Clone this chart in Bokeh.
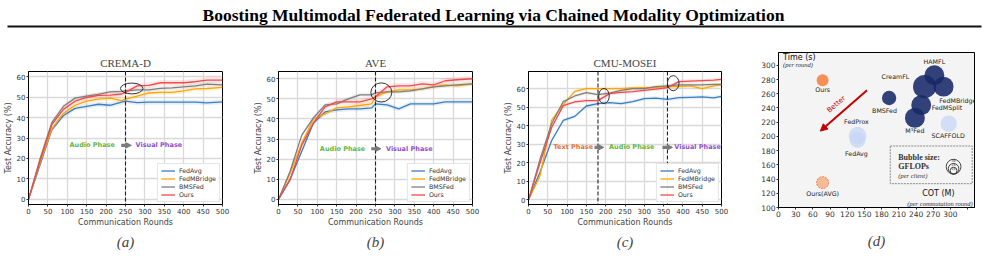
import numpy as np
from bokeh.plotting import figure
from bokeh.layouts import column, row
from bokeh.models import (Range1d, Span, Arrow, NormalHead, Legend, LegendItem,
                          Title, FixedTicker)
from bokeh.core.properties import value
from bokeh.embed import file_html
from bokeh.resources import INLINE

# ---------------- data ----------------
MAIN_TITLE = "Boosting Multimodal Federated Learning via Chained Modality Optimization"
methods = ["FedAvg", "FedMBridge", "BMSFed", "Ours"]

# (a) CREMA-D
rounds_a = [0, 30, 60, 90, 120, 150, 180, 210, 240, 250, 280, 310, 340, 370, 400, 430, 460, 500]
crema_fedavg = [0, 17, 34, 41, 44.5, 45.5, 46.5, 46, 47.5, 48, 47.3, 47.5, 47.5, 47.5, 47.5, 47.5, 47.2, 47.7]
crema_fedmbridge = [0, 18, 34.5, 42, 46, 48, 49, 49.5, 48.3, 49, 50.5, 52, 52.3, 52.3, 53, 54, 54.2, 54.7]
crema_bmsfed = [0, 20, 37.5, 45.5, 49.5, 50.5, 51.3, 52.5, 52.8, 53, 53.5, 53.5, 54.3, 54.5, 55, 55.5, 56.3, 56]
crema_ours = [0, 19, 36.5, 44, 48, 49.8, 50.8, 51, 51.5, 52.3, 55.5, 55.7, 57, 57, 57, 57.5, 58.3, 58.3]
crema_std = [1.2, 1.2, 1.0, 1.4]

# (b) AVE
rounds_b = [0, 30, 60, 90, 120, 150, 180, 210, 240, 250, 280, 310, 340, 370, 400, 430, 460, 500]
ave_fedavg = [0, 10, 24, 38, 43.5, 44.5, 45, 45, 45.5, 47.5, 47, 45, 47.5, 47.5, 47.5, 48.5, 48.5, 48.5]
ave_fedmbridge = [0, 13, 28, 40, 42.5, 45.5, 46, 46.7, 47.5, 51, 53.5, 54.5, 54.5, 55, 56, 57, 56.5, 57.5]
ave_bmsfed = [0, 14, 32, 40.5, 47, 47.5, 50, 52, 52, 53, 53.5, 53.5, 54, 55, 56, 56.5, 57, 57.5]
ave_ours = [0, 10, 27, 38, 46, 48.5, 48.5, 48.5, 50, 51, 56, 56.5, 56.5, 57.5, 57, 59, 59.5, 60]
ave_std = [1.2, 1.2, 1.0, 1.4]

# (c) CMU-MOSEI
rounds_c = [0, 30, 60, 90, 120, 150, 180, 210, 240, 270, 300, 330, 360, 390, 420, 450, 480, 500]
mosei_fedavg = [0, 15, 32, 42.8, 45, 50.6, 51.9, 52.4, 51.9, 53, 54.6, 54.8, 54.2, 55.1, 55.3, 55.5, 55, 55.8]
mosei_fedmbridge = [0, 13, 43, 51.5, 58.5, 60, 60, 60, 60, 60.3, 60.5, 60.5, 61, 61, 61.5, 60, 61.5, 62]
mosei_bmsfed = [0, 22, 41, 53, 56, 57.8, 56.7, 57.5, 59, 60, 60, 61, 61.5, 62, 62, 62, 62.3, 62.3]
mosei_ours = [0, 20, 39, 50.8, 52.8, 53.5, 53.5, 57.3, 58, 58.3, 59, 59.7, 60.5, 63.7, 64, 64.3, 64.5, 65]
mosei_std = [1.0, 1.0, 0.9, 1.0]

# (d) efficiency bubbles
bub_names = ["Ours", "Ours(AVG)", "FedProx", "FedAvg", "BMSFed", "CreamFL", "HAMFL",
             "FedMBridge", "FedMSplit", "M³Fed", "SCAFFOLD"]
bub_cot = [77, 77, 138, 138, 193, 255, 272, 288, 249, 238, 297]
bub_time = [279, 135, 201, 195, 254, 270, 286, 270, 244, 226, 218]
bub_gflops = [0.9, 0.9, 2.0, 1.6, 1.3, 3.4, 2.5, 2.5, 2.5, 2.5, 1.7]
bub_group = ["ours", "ours_avg", "light", "light", "dark", "dark", "dark", "dark", "dark", "dark", "light"]

# ---------------- style ----------------
COLORS = ["#3a7fc1", "#ffa500", "#7f7f7f", "#f24a4a"]
SANS = "DejaVu Sans"
SERIF = "Liberation Serif"
GREEN = "#62b843"
PURPLE = "#9150cc"
ORANGE_T = "#e0733a"
TICK_COL = "#333333"


def style_axes(p):
    p.axis.major_label_text_font = SANS
    p.axis.major_label_text_font_size = "7px"
    p.axis.major_label_text_color = TICK_COL
    p.axis.major_tick_out = 2
    p.axis.major_tick_in = 0
    p.axis.minor_tick_line_color = None
    p.axis.major_tick_line_color = "#333333"
    p.axis.axis_line_color = "black"
    p.axis.major_label_standoff = 1
    p.axis.axis_label_text_font = SANS
    p.axis.axis_label_text_font_size = "8px"
    p.axis.axis_label_text_font_style = "normal"
    p.axis.axis_label_standoff = 1
    p.outline_line_color = "black"
    p.outline_line_width = 1


def acc_panel(title, caption, rounds, series, stds, y_end, splits, ellipses,
              phase_y, phases, arrows, left, right):
    p = figure(width=250, height=221, x_range=Range1d(0, 500), y_range=Range1d(-2.5, y_end),
               output_backend="svg", toolbar_location=None,
               min_border_left=left, min_border_right=right,
               min_border_top=31, min_border_bottom=57)
    p.title.text = title
    p.title.align = "center"
    p.title.text_font = SERIF
    p.title.text_font_size = "11px"
    p.title.text_font_style = "normal"
    p.title.standoff = 5
    style_axes(p)
    p.xaxis.ticker = FixedTicker(ticks=list(range(0, 501, 50)))
    p.yaxis.ticker = FixedTicker(ticks=list(range(0, 61, 10)))
    p.xaxis.axis_label = "Communication Rounds"
    p.yaxis.axis_label = "Test Accuracy (%)"
    p.grid.grid_line_color = "#d9d9d9"
    p.grid.grid_line_width = 1.3

    x = np.array(rounds, dtype=float)
    items = []
    for name, vals, sd, col in zip(methods, series, stds, COLORS):
        v = np.array(vals, dtype=float)
        band = np.where(x > 0, sd, 0.0)
        p.varea(x=x, y1=v - band, y2=v + band, fill_color=col, fill_alpha=0.13)
    for name, vals, col in zip(methods, series, COLORS):
        r = p.line(x=rounds, y=vals, line_color=col, line_width=1.3)
        items.append(LegendItem(label=name, renderers=[r]))

    for s in splits:
        p.add_layout(Span(location=s, dimension="height", line_color="#222222",
                          line_width=1.1, line_dash="4 2"))
    for (ex, ey, ew, eh) in ellipses:
        p.ellipse(x=[ex], y=[ey], width=[ew], height=[eh], fill_color=None,
                  line_color="#333333", line_width=1)

    for (txt, col, xc) in phases:
        p.text(x=[xc], y=[phase_y], text=[txt], text_color=col, text_align="center",
               text_baseline="middle", text_font=value(SANS), text_font_size="6.5px",
               text_font_style="bold")
    for (x0, x1) in arrows:
        p.add_layout(Arrow(x_start=x0, y_start=phase_y, x_end=x1, y_end=phase_y,
                           line_color="#7a7a7a", line_width=3.2,
                           end=NormalHead(size=5, fill_color="#7a7a7a", line_color="#7a7a7a")))

    leg = Legend(items=items, location="bottom_right")
    leg.label_text_font = SANS
    leg.label_text_font_size = "6.3px"
    leg.label_text_color = "#333333"
    leg.glyph_width = 14
    leg.glyph_height = 7
    leg.label_height = 7
    leg.label_standoff = 4
    leg.spacing = 1
    leg.padding = 3
    leg.margin = 2
    leg.border_line_color = "#cccccc"
    leg.border_line_width = 1
    leg.background_fill_alpha = 0.9
    p.add_layout(leg)

    cap = Title(text=caption, align="center", text_font=SERIF, text_font_size="15px",
                text_font_style="italic", standoff=4)
    p.add_layout(cap, "below")
    return p


pa = acc_panel("CREMA-D", "(a)", rounds_a,
               [crema_fedavg, crema_fedmbridge, crema_bmsfed, crema_ours], crema_std,
               62.5, [250], [(266, 54.2, 58, 5.3)], 26.4,
               [("Audio Phase", GREEN, 164), ("Visual Phase", PURPLE, 336)], [(239, 265)],
               28, 28)
pb = acc_panel("AVE", "(b)", rounds_b,
               [ave_fedavg, ave_fedmbridge, ave_bmsfed, ave_ours], ave_std,
               63.6, [250], [(265, 53.2, 54, 9.5)], 25.2,
               [("Audio Phase", GREEN, 165), ("Visual Phase", PURPLE, 337)], [(239, 264)],
               28, 28)
pc = acc_panel("CMU-MOSEI", "(c)", rounds_c,
               [mosei_fedavg, mosei_fedmbridge, mosei_bmsfed, mosei_ours], mosei_std,
               69.2, [180, 360], [(195.5, 56, 27.5, 8.1), (375, 62.9, 30, 8.1)], 28.3,
               [("Text Phase", ORANGE_T, 116), ("Audio Phase", GREEN, 267.5),
                ("Visual Phase", PURPLE, 438)], [(171, 195), (347, 373)],
               27, 29)

# ---------------- (d) bubble chart ----------------
pd_ = figure(width=235, height=221, x_range=Range1d(0, 342), y_range=Range1d(100, 318),
             output_backend="svg", toolbar_location=None,
             min_border_left=28, min_border_right=11, min_border_top=12, min_border_bottom=54)
style_axes(pd_)
pd_.background_fill_color = "#f4f4f4"
pd_.grid.grid_line_color = None
pd_.xaxis.ticker = FixedTicker(ticks=list(range(0, 331, 30)))
pd_.xaxis.major_label_overrides = {330: ""}
pd_.yaxis.ticker = FixedTicker(ticks=list(range(100, 301, 20)))
pd_.axis.major_label_text_font_size = "7.5px"

STY = {
    "ours": dict(fill="#f58a4b", alpha=0.95, line=None, dash="solid"),
    "ours_avg": dict(fill="#f8ab80", alpha=0.8, line="#ef7a3c", dash="2 1"),
    "light": dict(fill="#c7d5f7", alpha=0.75, line=None, dash="solid"),
    "dark": dict(fill="#172868", alpha=0.88, line=None, dash="solid"),
}
for grp in ["ours", "ours_avg", "light", "dark"]:
    idx = [i for i, g in enumerate(bub_group) if g == grp]
    st = STY[grp]
    pd_.scatter(x=[bub_cot[i] for i in idx], y=[bub_time[i] for i in idx],
                size=[2 * 6.3 * np.sqrt(bub_gflops[i]) for i in idx],
                fill_color=st["fill"], fill_alpha=st["alpha"],
                line_color=st["line"], line_dash=st["dash"], line_width=1)

lab_pos = {"Ours": (77, 266.5), "Ours(AVG)": (77, 119), "FedProx": (136, 220.5),
           "FedAvg": (136, 176.5), "BMSFed": (185, 237), "CreamFL": (204, 284),
           "HAMFL": (272, 305), "FedMBridge": (313, 251), "FedMSplit": (294, 240),
           "M³Fed": (238, 208), "SCAFFOLD": (296, 201)}
pd_.text(x=[lab_pos[n][0] for n in bub_names], y=[lab_pos[n][1] for n in bub_names],
         text=bub_names, text_align="center", text_baseline="middle",
         text_font=value(SANS), text_font_size="6.3px", text_color="#222222")

# "Better" arrow
pd_.add_layout(Arrow(x_start=154.5, y_start=265, x_end=73, y_end=207.5,
                     line_color="#c40000", line_width=2,
                     end=NormalHead(size=7, fill_color="#c40000", line_color="#c40000")))
pd_.text(x=[101], y=[245], text=["Better"], angle=41, angle_units="deg",
         text_align="center", text_baseline="middle", text_font=value(SANS),
         text_font_size="7px", text_color="#c40000")

# axis captions inside
pd_.text(x=[8], y=[311.5], text=["Time (s)"], text_align="left", text_baseline="middle",
         text_font=value(SANS), text_font_size="8px", text_color="#111111")
pd_.text(x=[8], y=[301.5], text=["(per round)"], text_align="left", text_baseline="middle",
         text_font=value(SERIF), text_font_size="6.5px", text_font_style="italic",
         text_color="#333333")
pd_.text(x=[279], y=[119], text=["COT (M)"], text_align="center", text_baseline="middle",
         text_font=value(SANS), text_font_size="8px", text_color="#111111")
pd_.text(x=[339], y=[105.5], text=["(per commutation round)"], text_align="right",
         text_baseline="middle", text_font=value(SERIF), text_font_size="6.5px",
         text_font_style="italic", text_color="#333333")

# bubble-size legend box
pd_.quad(left=[195], right=[338], bottom=[133.5], top=[186.5], fill_color=None,
         line_color="#8a8a8a", line_dash="2 1", line_width=1)
pd_.text(x=[209, 209, 209], y=[171, 158, 144.5],
         text=["Bubble size:", "GFLOPs", "(per client)"], text_align="left",
         text_baseline="middle", text_font=value(SERIF),
         text_font_size=["8px", "8px", "6.5px"], text_font_style=["bold", "bold", "italic"],
         text_color="#333333")
ref_lab = ["3k", "2k", "1k"]
ref_r_px = [7.4, 5.3, 3.4]
base_y = 147.0
pd_.scatter(x=[305.5] * 3, y=[base_y + r / 0.712 for r in ref_r_px],
            size=[2 * r for r in ref_r_px], fill_color=None, line_color="#333333",
            line_width=0.9)
pd_.text(x=[305.5] * 3, y=[base_y + (2 * r - 1.6) / 0.712 for r in ref_r_px], text=ref_lab,
         text_align="center", text_baseline="middle", text_font=value(SANS),
         text_font_size="3.5px", text_color="#333333")

pd_.add_layout(Title(text="(d)", align="center", text_font=SERIF, text_font_size="15px",
                     text_font_style="italic", standoff=22, offset=-6), "below")

# ---------------- header ----------------
ph = figure(width=985, height=40, x_range=Range1d(0, 985), y_range=Range1d(40, 0),
            output_backend="svg", toolbar_location=None, min_border=0)
ph.axis.visible = False
ph.grid.grid_line_color = None
ph.outline_line_color = None
ph.text(x=[493], y=[14], text=[MAIN_TITLE], text_align="center", text_baseline="middle",
        text_font=value(SERIF), text_font_size="17.5px", text_font_style="bold",
        text_color="black")
ph.segment(x0=[7], x1=[981], y0=[26], y1=[26], line_color="#111111", line_width=2.2)

layout = column(ph, row(column(pa), column(pb), column(pc), column(pd_), spacing=0), spacing=0)
open("out.html", "w").write(file_html(layout, INLINE))
